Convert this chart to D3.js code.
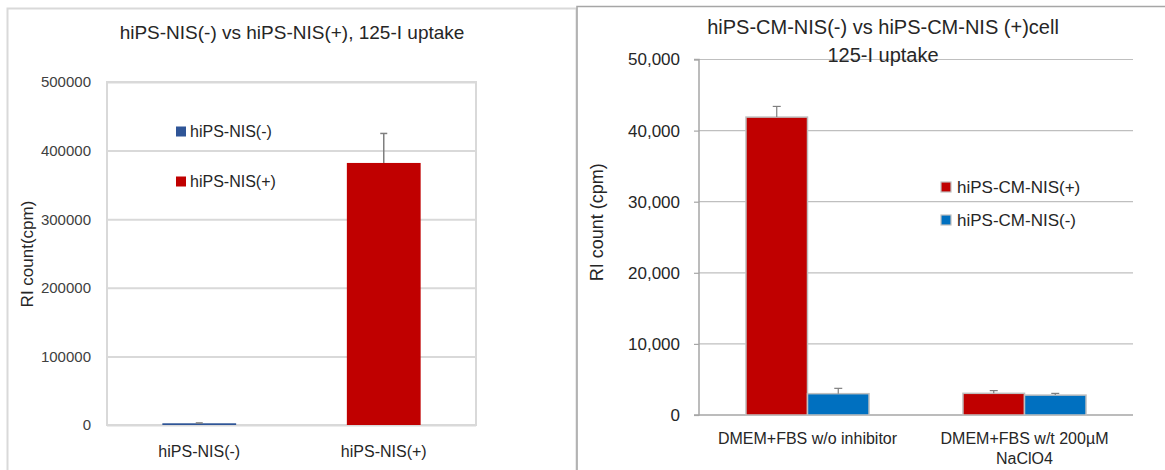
<!DOCTYPE html>
<html>
<head>
<meta charset="utf-8">
<script src="https://cdn.jsdelivr.net/npm/d3@7/dist/d3.min.js"></script>
<style>
  html, body { margin: 0; padding: 0; background: #fff; }
  svg { display: block; font-family: "Liberation Sans", Arial, sans-serif; }
</style>
</head>
<body>
<svg id="chart" width="1165" height="470"></svg>
<script>
// ---------- Left chart data ----------
const leftTitle = "hiPS-NIS(-) vs hiPS-NIS(+), 125-I uptake";
const leftCategories = ["hiPS-NIS(-)", "hiPS-NIS(+)"];
const leftValues = [2500, 382000];
const leftErrors = [500, 43000];
const leftColors = ["#2f5597", "#c00000"];
const leftTicks = [0, 100000, 200000, 300000, 400000, 500000];
const leftYLabel = "RI count(cpm)";

// ---------- Right chart data ----------
const rightTitle = ["hiPS-CM-NIS(-) vs hiPS-CM-NIS (+)cell", "125-I uptake"];
const rightCategories = ["DMEM+FBS w/o inhibitor", "DMEM+FBS w/t 200µM\nNaClO4"];
const rightSeries = ["hiPS-CM-NIS(+)", "hiPS-CM-NIS(-)"];
const rightPlusValues = [41900, 3050];
const rightPlusErrors = [1500, 380];
const rightMinusValues = [3000, 2800];
const rightMinusErrors = [750, 240];
const rightColors = ["#c00000", "#0070c0"];
const rightTicks = [0, 10000, 20000, 30000, 40000, 50000];
const rightYLabel = "RI count (cpm)";

const svg = d3.select("#chart");

// ================= LEFT PANEL =================
(function () {
  const g = svg.append("g");
  // panel border
  g.append("rect").attr("x", 7.5).attr("y", 8.5).attr("width", 569).attr("height", 480)
    .attr("fill", "none").attr("stroke", "#d9d9d9").attr("stroke-width", 2);

  const x = d3.scaleBand().domain(leftCategories).range([107, 476]).paddingInner(0.6).paddingOuter(0.3);
  const y = d3.scaleLinear().domain([0, 500000]).range([425, 82]);

  // gridlines
  const yAxis = d3.axisLeft(y).tickValues(leftTicks).tickSize(-(476 - 107)).tickFormat(d3.format("d")).tickPadding(16);
  const ag = g.append("g").attr("transform", "translate(107,0)").call(yAxis);
  ag.select(".domain").remove();
  ag.selectAll(".tick line").attr("stroke", "#d9d9d9").attr("stroke-width", 2);
  ag.selectAll(".tick text").attr("fill", "#404040").style("font-size", "15px")
    .style("font-family", "'Liberation Sans', Arial, sans-serif");

  // plot border
  g.append("rect").attr("x", 107).attr("y", 82).attr("width", 369).attr("height", 343)
    .attr("fill", "none").attr("stroke", "#d9d9d9").attr("stroke-width", 2);

  // bars
  const data = leftCategories.map((c, i) => ({ c, v: leftValues[i], e: leftErrors[i], col: leftColors[i] }));
  g.selectAll("rect.bar").data(data).enter().append("rect").attr("class", "bar")
    .attr("x", d => x(d.c)).attr("width", x.bandwidth())
    .attr("y", d => y(d.v)).attr("height", d => y(0) - y(d.v))
    .attr("fill", d => d.col);

  // error bars (upper)
  const eg = g.selectAll("g.err").data(data).enter().append("g").attr("class", "err");
  eg.append("line").attr("x1", d => x(d.c) + x.bandwidth() / 2).attr("x2", d => x(d.c) + x.bandwidth() / 2)
    .attr("y1", d => y(d.v)).attr("y2", d => y(d.v + d.e)).attr("stroke", "#7f7f7f").attr("stroke-width", 1.5);
  eg.append("line").attr("x1", d => x(d.c) + x.bandwidth() / 2 - 3.5).attr("x2", d => x(d.c) + x.bandwidth() / 2 + 3.5)
    .attr("y1", d => y(d.v + d.e)).attr("y2", d => y(d.v + d.e)).attr("stroke", "#7f7f7f").attr("stroke-width", 1.5);

  // x labels
  g.selectAll("text.xl").data(leftCategories).enter().append("text").attr("class", "xl")
    .attr("x", d => x(d) + x.bandwidth() / 2).attr("y", 457).attr("text-anchor", "middle")
    .attr("fill", "#262626").style("font-size", "16px").text(d => d);

  // title
  g.append("text").attr("x", 292).attr("y", 39).attr("text-anchor", "middle")
    .attr("fill", "#262626").style("font-size", "19px").text(leftTitle);

  // y label
  g.append("text").attr("transform", "translate(27,254) rotate(-90)").attr("text-anchor", "middle")
    .attr("dominant-baseline", "central").attr("fill", "#262626").style("font-size", "17px").text(leftYLabel);

  // legend
  const lg = g.selectAll("g.leg").data(leftCategories).enter().append("g").attr("class", "leg")
    .attr("transform", (d, i) => `translate(176,${131.5 + i * 50})`);
  lg.append("rect").attr("x", 0).attr("y", -5).attr("width", 10).attr("height", 10).attr("fill", (d, i) => leftColors[i]);
  lg.append("text").attr("x", 14).attr("y", 0).attr("dominant-baseline", "central")
    .attr("fill", "#262626").style("font-size", "16px").text(d => d);
})();

// ================= RIGHT PANEL =================
(function () {
  const g = svg.append("g");
  g.append("rect").attr("x", 577).attr("y", 6.5).attr("width", 600).attr("height", 480)
    .attr("fill", "none").attr("stroke", "#a6a6a6").attr("stroke-width", 1.5);

  const L = 699, R = 1133, T = 59.5, B = 415;
  const x0 = d3.scaleBand().domain(rightCategories).range([L, R]).paddingInner(0.433).paddingOuter(0.2165);
  const x1 = d3.scaleBand().domain(rightSeries).range([0, x0.bandwidth()]).padding(0);
  const y = d3.scaleLinear().domain([0, 50000]).range([B, T]);

  // gridlines
  g.append("g").selectAll("line").data(rightTicks.filter(t => t > 0)).enter().append("line")
    .attr("x1", L).attr("x2", R).attr("y1", d => y(d)).attr("y2", d => y(d))
    .attr("stroke", "#bfbfbf").attr("stroke-width", 1.2);

  // y axis
  const yAxis = d3.axisLeft(y).tickValues(rightTicks).tickSize(5).tickPadding(14).tickFormat(d3.format(","));
  const ag = g.append("g").attr("transform", `translate(${L},0)`).call(yAxis);
  ag.select(".domain").attr("stroke", "#a6a6a6").attr("stroke-width", 1.5).attr("d", `M-5,${T}H0V${B}H-5`);
  ag.selectAll(".tick line").attr("stroke", "#a6a6a6").attr("stroke-width", 1.2);
  ag.selectAll(".tick text").attr("fill", "#262626").style("font-size", "17px")
    .style("font-family", "'Liberation Sans', Arial, sans-serif");

  // x axis line
  g.append("line").attr("x1", L).attr("x2", R).attr("y1", B).attr("y2", B).attr("stroke", "#a6a6a6").attr("stroke-width", 1.5);

  // title (drawn above gridlines)
  const tt = g.append("text").attr("text-anchor", "middle").attr("fill", "#262626").style("font-size", "20px");
  rightTitle.forEach((t, i) => tt.append("tspan").attr("x", 883).attr("y", 34 + i * 28).text(t));

  // bars
  const valuesBySeries = [rightPlusValues, rightMinusValues];
  const errorsBySeries = [rightPlusErrors, rightMinusErrors];
  const data = [];
  rightCategories.forEach((c, ci) => rightSeries.forEach((s, si) => {
    data.push({ c, s, v: valuesBySeries[si][ci], e: errorsBySeries[si][ci], col: rightColors[si] });
  }));
  g.selectAll("rect.bar").data(data).enter().append("rect").attr("class", "bar")
    .attr("x", d => x0(d.c) + x1(d.s)).attr("width", x1.bandwidth())
    .attr("y", d => y(d.v)).attr("height", d => y(0) - y(d.v))
    .attr("fill", d => d.col).attr("stroke", "#bfbfbf").attr("stroke-width", 1.5);

  const eg = g.selectAll("g.err").data(data).enter().append("g").attr("class", "err");
  const cx = d => x0(d.c) + x1(d.s) + x1.bandwidth() / 2;
  eg.append("line").attr("x1", cx).attr("x2", cx)
    .attr("y1", d => y(d.v)).attr("y2", d => y(d.v + d.e)).attr("stroke", "#7f7f7f").attr("stroke-width", 1.2);
  eg.append("line").attr("x1", d => cx(d) - 4).attr("x2", d => cx(d) + 4)
    .attr("y1", d => y(d.v + d.e)).attr("y2", d => y(d.v + d.e)).attr("stroke", "#7f7f7f").attr("stroke-width", 1.2);

  // x labels
  const xl = g.selectAll("text.xl").data(rightCategories).enter().append("text").attr("class", "xl")
    .attr("text-anchor", "middle").attr("fill", "#262626").style("font-size", "16px");
  xl.each(function (d) {
    const lines = d.split("\n");
    const cxp = x0(d) + x0.bandwidth() / 2;
    lines.forEach((ln, i) => d3.select(this).append("tspan").attr("x", cxp).attr("y", 444 + i * 20).text(ln));
  });

  // y label
  g.append("text").attr("transform", `translate(597,${(T + B) / 2 - 15}) rotate(-90)`).attr("text-anchor", "middle")
    .attr("dominant-baseline", "central").attr("fill", "#262626").style("font-size", "18px").text(rightYLabel);

  // legend
  const lg = g.selectAll("g.leg").data(rightSeries).enter().append("g").attr("class", "leg")
    .attr("transform", (d, i) => `translate(941,${187 + i * 33})`);
  lg.append("rect").attr("x", 0).attr("y", -5).attr("width", 10).attr("height", 10)
    .attr("fill", (d, i) => rightColors[i]).attr("stroke", "#bfbfbf").attr("stroke-width", 1.2);
  lg.append("text").attr("x", 16).attr("y", 0).attr("dominant-baseline", "central")
    .attr("fill", "#262626").style("font-size", "17px").text(d => d);
})();
</script>
</body>
</html>
